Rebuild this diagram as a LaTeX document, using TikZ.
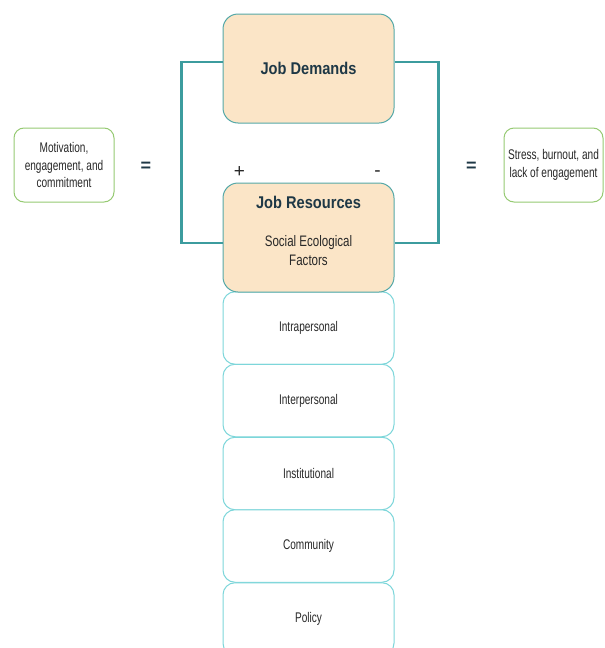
\documentclass[tikz,border=0pt]{standalone}
\usepackage{fontspec}
\setmainfont{Liberation Sans}
\newfontfamily\narrowfont[FakeStretch=0.72]{Liberation Sans}
\newfontfamily\midfont[FakeStretch=0.76]{Liberation Sans}
\newfontfamily\titlefont[FakeStretch=0.86]{Liberation Sans}
\definecolor{peach}{RGB}{251,229,199}
\definecolor{tealline}{RGB}{60,156,158}
\definecolor{tealbord}{RGB}{84,168,168}
\definecolor{cyanbord}{RGB}{125,214,218}
\definecolor{greenbord}{RGB}{150,202,115}
\definecolor{titlecol}{RGB}{30,56,70}
\definecolor{bodycol}{RGB}{40,40,40}
\tikzset{
  orangebox/.style={draw=tealbord, line width=1pt, fill=peach, rounded corners=15pt, minimum width=171pt, minimum height=109pt, inner sep=0pt},
  levelbox/.style={draw=cyanbord, line width=1pt, fill=white, rounded corners=12pt, minimum width=171pt, minimum height=72.5pt, inner sep=0pt, font=\narrowfont\fontsize{14}{17.5}\selectfont, text=bodycol},
  outcome/.style={draw=greenbord, line width=1pt, fill=white, rounded corners=10pt, minimum height=74pt, inner sep=0pt, align=center, font=\narrowfont\fontsize{14}{17.5}\selectfont, text=bodycol},
  conn/.style={draw=tealline, line width=2.5pt},
  titletext/.style={font=\titlefont\fontsize{17}{20}\selectfont\bfseries, text=titlecol},
  eqsign/.style={font=\fontsize{18}{20}\selectfont\bfseries, text=titlecol},
  signtext/.style={font=\fontsize{19}{20}\selectfont, text=bodycol}
}
\begin{document}
\begin{tikzpicture}[x=1pt,y=-1pt]
\useasboundingbox (0,0) rectangle (605,648);
\begin{scope}
\clip (0,0) rectangle (605,648);
% levels
\node[levelbox] (L1) at (308.5,328) {Intrapersonal};
\node[levelbox] (L2) at (308.5,400.5) {Interpersonal};
\node[levelbox] (L3) at (308.5,473.5) {Institutional};
\node[levelbox] (L4) at (308.5,546) {Community};
\node[levelbox] (L5) at (308.5,619) {Policy};
% main boxes
\node[orangebox] (JD) at (308.5,68.5) {};
\node[titletext] (JDt) at (308.5,68) {Job Demands};
\node[orangebox] (JR) at (308.5,237.5) {};
\node[titletext] (JRt) at (308.5,202) {Job Resources};
\node[align=center, font=\midfont\fontsize{15.2}{19}\selectfont, text=bodycol] (JRs) at (308.5,250.5) {Social Ecological\\Factors};
% connectors
\draw[conn] ([yshift=6.5pt]JD.west) -- ++(-41,0) |- ([yshift=-5.5pt]JR.west);
\draw[conn] ([yshift=6.5pt]JD.east) -- ++(44,0) |- ([yshift=-5.5pt]JR.east);
% signs
\node[signtext] (plus) at (239.5,172) {+};
\node[signtext] (minus) at (377.5,174) {-};
% outcomes
\node[outcome, minimum width=100pt] (M) at (64,165) {Motivation,\\engagement, and\\commitment};
\node[outcome, minimum width=99pt] (S) at (553.5,165) {Stress, burnout, and\\lack of engagement};
\node[eqsign] (eq1) at (146,167) {=};
\node[eqsign] (eq2) at (471.5,167) {=};
\end{scope}
\end{tikzpicture}
\end{document}
